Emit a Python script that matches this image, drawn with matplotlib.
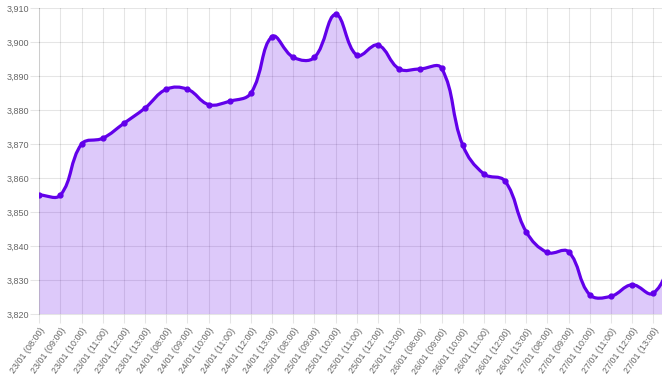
import matplotlib
matplotlib.use("Agg")
import matplotlib.pyplot as plt
import numpy as np
from matplotlib.path import Path
from matplotlib.patches import PathPatch
from matplotlib.ticker import FuncFormatter, MultipleLocator

labels = [
    "23/01 (08:00)", "23/01 (09:00)", "23/01 (10:00)", "23/01 (11:00)", "23/01 (12:00)", "23/01 (13:00)",
    "24/01 (08:00)", "24/01 (09:00)", "24/01 (10:00)", "24/01 (11:00)", "24/01 (12:00)", "24/01 (13:00)",
    "25/01 (08:00)", "25/01 (09:00)", "25/01 (10:00)", "25/01 (11:00)", "25/01 (12:00)", "25/01 (13:00)",
    "26/01 (08:00)", "26/01 (09:00)", "26/01 (10:00)", "26/01 (11:00)", "26/01 (12:00)", "26/01 (13:00)",
    "27/01 (08:00)", "27/01 (09:00)", "27/01 (10:00)", "27/01 (11:00)", "27/01 (12:00)", "27/01 (13:00)",
    "27/01 (14:00)",
]
values = [
    3855.0, 3855.0, 3870.0, 3871.7, 3876.1, 3880.6,
    3886.1, 3886.1, 3881.6, 3882.6, 3885.0, 3901.6,
    3895.5, 3895.5, 3908.1, 3896.1, 3899.1, 3892.1,
    3892.1, 3892.3, 3869.7, 3861.2, 3859.1, 3844.2,
    3838.1, 3838.3, 3825.7, 3825.2, 3828.6, 3826.1,
    3838.0,
]
n_visible = 30

W, H = 662, 376
fig = plt.figure(figsize=(W / 100, H / 100), dpi=100)
left_px, right_px, top_px, bot_px = 39.3, 662.0, 8.0, 314.0
ax = fig.add_axes([left_px / W, 1 - bot_px / H, (right_px - left_px) / W, (bot_px - top_px) / H])

xs = np.arange(len(values), dtype=float)
ys = np.array(values)
step_px = (653.2 - left_px) / 29
ax.set_xlim(0, (right_px - left_px) / step_px)
ax.set_ylim(3820, 3910)

grid_hex = "#0000001a"
line_c = "#6200ea"
fill_c = (98 / 255, 0, 234 / 255, 0.21)
font = "Liberation Sans"
fs = 6.5

ax.set_xticks(np.arange(n_visible))
ax.set_xticklabels(labels[:n_visible], rotation=55, ha="right", va="top",
                   rotation_mode="anchor", fontsize=fs, color="#666666", family=font)
ax.yaxis.set_major_locator(MultipleLocator(10))
ax.yaxis.set_major_formatter(FuncFormatter(lambda v, p: f"{int(round(v)):,}"))
ax.tick_params(axis="y", labelsize=fs, labelcolor="#666666", length=6.5, width=0.8,
               color=grid_hex, pad=0.8)
for lab in ax.get_yticklabels():
    lab.set_family(font)
ax.tick_params(axis="x", length=6.5, width=0.8, color=grid_hex, pad=2.5)
ax.grid(True, color="black", alpha=0.1, linewidth=0.8)
ax.set_axisbelow(True)
for s in ["top", "right"]:
    ax.spines[s].set_visible(False)
for s in ["left", "bottom"]:
    ax.spines[s].set_color(grid_hex)
    ax.spines[s].set_linewidth(0.8)

# Chart.js-style bezier (tension 0.4) computed in pixel space
fig.canvas.draw()
T = ax.transData
P = T.transform(np.column_stack([xs, ys]))
bbox = ax.bbox
tension = 0.4
cp_prev = np.zeros_like(P)
cp_next = np.zeros_like(P)
for i in range(len(P)):
    prev = P[i - 1] if i > 0 else P[i]
    nxt = P[i + 1] if i < len(P) - 1 else P[i]
    cur = P[i]
    d01 = np.hypot(*(cur - prev))
    d12 = np.hypot(*(nxt - cur))
    tot = d01 + d12
    s01 = d01 / tot if tot else 0
    s12 = d12 / tot if tot else 0
    cp_prev[i] = cur - tension * s01 * (nxt - prev)
    cp_next[i] = cur + tension * s12 * (nxt - prev)
cp_prev[:, 1] = np.clip(cp_prev[:, 1], bbox.y0, bbox.y1)
cp_next[:, 1] = np.clip(cp_next[:, 1], bbox.y0, bbox.y1)

inv = T.inverted()
D = inv.transform(P)
CPp = inv.transform(cp_prev)
CPn = inv.transform(cp_next)

verts = [tuple(D[0])]
codes = [Path.MOVETO]
for i in range(1, len(D)):
    verts += [tuple(CPn[i - 1]), tuple(CPp[i]), tuple(D[i])]
    codes += [Path.CURVE4] * 3

line_path = Path(verts, codes)
fill_verts = verts + [(xs[-1], 3820), (xs[0], 3820), verts[0]]
fill_codes = codes + [Path.LINETO, Path.LINETO, Path.CLOSEPOLY]
ax.add_patch(PathPatch(Path(fill_verts, fill_codes), facecolor=fill_c, edgecolor="none", zorder=2))
ax.add_patch(PathPatch(line_path, facecolor="none", edgecolor=line_c, linewidth=2.3,
                       capstyle="round", joinstyle="round", zorder=3))
ax.plot(xs, ys, linestyle="none", marker="o", markersize=3.5, color=line_c,
        markeredgecolor=line_c, zorder=4, clip_on=True)

fig.savefig("out.png", dpi=100)
